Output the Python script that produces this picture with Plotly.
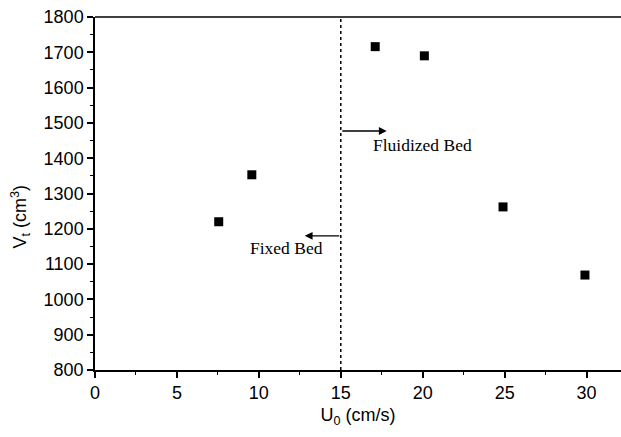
import plotly.graph_objects as go

u0 = [7.55, 9.57, 17.1, 20.1, 24.9, 29.9]
vt = [1220, 1353, 1716, 1690, 1262, 1069]

x_ticks = [0, 5, 10, 15, 20, 25, 30]
y_ticks = [800, 900, 1000, 1100, 1200, 1300, 1400, 1500, 1600, 1700, 1800]

fig = go.Figure()
fig.add_trace(go.Scatter(
    x=u0, y=vt, mode="markers",
    marker=dict(symbol="square", size=9, color="black"),
    showlegend=False))

axis_font = dict(family="Liberation Sans, Arial", size=18, color="black")
fig.update_layout(
    width=621, height=437,
    margin=dict(l=95, r=0, t=17, b=67),
    plot_bgcolor="white", paper_bgcolor="white",
    xaxis=dict(range=[0, 32.1], tickvals=x_ticks, showgrid=False, zeroline=False,
               showline=True, linecolor="black", linewidth=1.5,
               ticks="outside", ticklen=6, tickwidth=1.5, tickcolor="black",
               minor=dict(dtick=2.5, ticks="outside", ticklen=3, tickwidth=1.2, tickcolor="black"),
               tickfont=axis_font,
               title=dict(text="U<sub>0</sub> (cm/s)", font=axis_font, standoff=6)),
    yaxis=dict(range=[800, 1800], tickvals=y_ticks, showgrid=False, zeroline=False,
               showline=True, linecolor="black", linewidth=1.5,
               ticks="outside", ticklen=6, tickwidth=1.5, tickcolor="black",
               minor=dict(dtick=50, ticks="outside", ticklen=3, tickwidth=1.2, tickcolor="black"),
               tickfont=axis_font),
)

# y-axis title as annotation (slightly below centre, as in the reference)
fig.add_annotation(text="V<sub>t</sub> (cm<sup>3</sup>)", xref="paper", yref="y",
                   x=-75 / 526, y=1235, textangle=-90, showarrow=False,
                   xanchor="center", yanchor="middle", font=axis_font)

# top border line
fig.add_shape(type="line", xref="paper", yref="paper", x0=0, x1=1, y0=1, y1=1,
              line=dict(color="black", width=1.5))
# dotted divider at U0 = 15
fig.add_shape(type="line", xref="x", yref="y", x0=15, x1=15, y0=800, y1=1800,
              line=dict(color="black", width=1.5, dash="dot"))

serif = dict(family="Liberation Serif, Times New Roman", size=17.5, color="black")
fig.add_annotation(x=17.8, y=1477, ax=15, ay=1477, xref="x", yref="y", axref="x", ayref="y",
                   showarrow=True, arrowhead=2, arrowsize=1.2, arrowwidth=1.3, arrowcolor="black", text="")
fig.add_annotation(x=12.8, y=1180, ax=15, ay=1180, xref="x", yref="y", axref="x", ayref="y",
                   showarrow=True, arrowhead=2, arrowsize=1.2, arrowwidth=1.3, arrowcolor="black", text="")
fig.add_annotation(x=20.0, y=1437, text="Fluidized Bed", showarrow=False, font=serif)
fig.add_annotation(x=11.7, y=1146, text="Fixed Bed", showarrow=False, font=serif)

fig.write_html("out.html")
